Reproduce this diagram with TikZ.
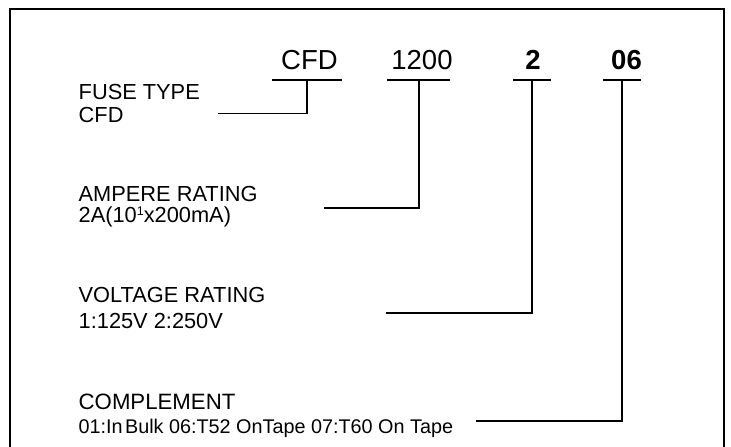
\documentclass[tikz,border=0pt]{standalone}
\usepackage{fontspec}
\setmainfont{Liberation Sans}
\newcommand{\supone}{\raisebox{7pt}{\fontsize{12.5}{12.5}\selectfont 1}}
\begin{document}
\begin{tikzpicture}[x=1pt,y=-1pt,
  code/.style={font=\fontsize{27.5}{27.5}\selectfont, inner sep=0pt, anchor=base},
  codeb/.style={code, font=\fontsize{27.5}{27.5}\selectfont\bfseries},
  lab/.style={font=\fontsize{21.8}{21.8}\selectfont, inner sep=0pt, anchor=base west},
  labsmall/.style={font=\fontsize{19.8}{19.8}\selectfont, inner sep=0pt, anchor=base west},
  lead/.style={line width=1.2pt},
  frame/.style={line width=2pt}]
\useasboundingbox (0,0) rectangle (731,447);
% frame (open at the bottom)
\coordinate (fbl) at (10,448);
\coordinate (ftl) at (10,8.5);
\coordinate (ftr) at (724,8.5);
\coordinate (fbr) at (724,448);
\draw[frame] (fbl) -- (ftl) -- (ftr) -- (fbr);
% code parts
\node[code]  (cfd)  at (309.5,69) {CFD};
\node[code]  (amp)  at (422,69)   {1200};
\node[codeb] (volt) at (533,69)   {2};
\node[codeb] (comp) at (626.5,69) {06};
% labels
\node[lab] (l1a) at (78.5,99)  {FUSE TYPE};
\node[lab] (l1b) at (78.5,122) {CFD};
\node[lab] (l2a) at (78.5,201) {AMPERE RATING};
\node[lab] (l2b) at (78.5,222) {2A(10\supone x200mA)};
\node[lab] (l3a) at (78.5,302) {VOLTAGE RATING};
\node[lab] (l3b) at (78.5,328) {1:125V 2:250V};
\node[lab,font=\fontsize{22.2}{22.2}\selectfont] (l4a) at (78.5,409) {COMPLEMENT};
\node[labsmall] (l4b) at (78.5,433) {01:In\hspace{0.12em}Bulk 06:T52 OnTape 07:T60 On Tape};
% underline and leader coordinates
\coordinate (u1l) at (272,80);  \coordinate (u1r) at (342,80);
\coordinate (u1m) at (307,80);  \coordinate (e1) at (217.5,113.5);
\coordinate (u2l) at (387,80);  \coordinate (u2r) at (450,80);
\coordinate (u2m) at (419,80);  \coordinate (e2) at (324,208);
\coordinate (u3l) at (513,80);  \coordinate (u3r) at (551,80);
\coordinate (u3m) at (532,80);  \coordinate (e3) at (386,313);
\coordinate (u4l) at (603,80);  \coordinate (u4r) at (641,80);
\coordinate (u4m) at (622,80);  \coordinate (e4) at (476,421);
\draw[lead] (u1l) -- (u1r);
\draw[lead] (u1m) |- (e1);
\draw[lead] (u2l) -- (u2r);
\draw[lead] (u2m) |- (e2);
\draw[lead] (u3l) -- (u3r);
\draw[lead] (u3m) |- (e3);
\draw[lead] (u4l) -- (u4r);
\draw[lead] (u4m) |- (e4);
\end{tikzpicture}
\end{document}
